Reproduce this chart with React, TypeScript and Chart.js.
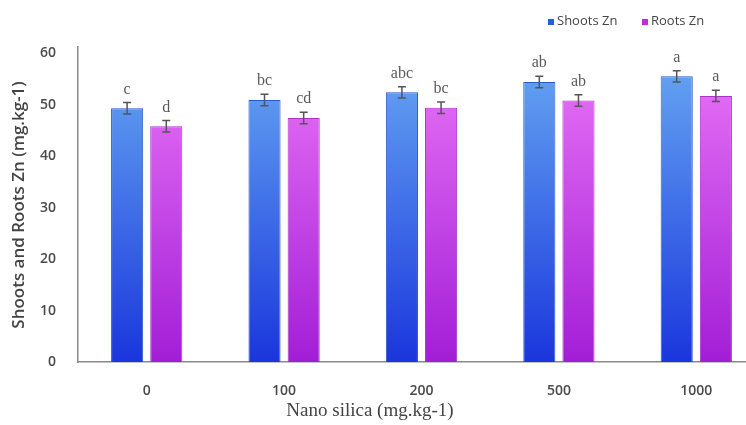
import React, { useEffect, useRef } from "react";
import { Chart, registerables } from "chart.js";

Chart.register(...registerables);

const categories = ["0", "100", "200", "500", "1000"];
const shootsZn = [49.3, 50.9, 52.4, 54.4, 55.5];
const rootsZn = [45.8, 47.4, 49.4, 50.8, 51.7];
const shootsErr = [1.1, 1.1, 1.1, 1.1, 1.1];
const rootsErr = [1.1, 1.1, 1.1, 1.1, 1.1];
const shootsLetters = ["c", "bc", "abc", "ab", "a"];
const rootsLetters = ["d", "cd", "bc", "ab", "a"];
const yTickValues = [0, 10, 20, 30, 40, 50, 60];
const seriesNames = ["Shoots Zn", "Roots Zn"];
const xTitle = "Nano silica (mg.kg-1)";
const yTitle = "Shoots and Roots Zn (mg.kg-1)";

const errors = [shootsErr, rootsErr];
const letters = [shootsLetters, rootsLetters];
const legendColors = ["#1f5fe0", "#c42ad8"];

const W = 780;
const H = 425;

const overlayPlugin = {
  id: "overlay",
  afterDatasetsDraw(chart: any) {
    const ctx = chart.ctx;
    const yScale = chart.scales.y;
    ctx.save();
    chart.data.datasets.forEach((ds: any, di: number) => {
      const meta = chart.getDatasetMeta(di);
      meta.data.forEach((el: any, i: number) => {
        const v = ds.data[i];
        const e = errors[di][i];
        const yt = yScale.getPixelForValue(v + e);
        const yb = yScale.getPixelForValue(v - e);
        const x = el.x;
        ctx.strokeStyle = "#555";
        ctx.lineWidth = 1.5;
        ctx.beginPath();
        ctx.moveTo(x, yt);
        ctx.lineTo(x, yb);
        ctx.moveTo(x - 4, yt);
        ctx.lineTo(x + 4, yt);
        ctx.moveTo(x - 4, yb);
        ctx.lineTo(x + 4, yb);
        ctx.stroke();
        ctx.fillStyle = "#5a5a5a";
        ctx.font = "16px 'Liberation Serif'";
        ctx.textAlign = "center";
        ctx.textBaseline = "alphabetic";
        ctx.fillText(letters[di][i], x, yt - 9);
      });
    });
    ctx.restore();
  },
  afterDraw(chart: any) {
    const ctx = chart.ctx;
    ctx.save();
    // legend
    ctx.font = "13px 'Open Sans'";
    ctx.textBaseline = "middle";
    ctx.textAlign = "left";
    const legendX = [548, 642];
    seriesNames.forEach((name, i) => {
      ctx.fillStyle = legendColors[i];
      ctx.fillRect(legendX[i], 19, 6, 6);
      ctx.fillStyle = "#444";
      ctx.fillText(name, legendX[i] + 9, 21);
    });
    // x title
    ctx.font = "19px 'Liberation Serif'";
    ctx.fillStyle = "#444";
    ctx.textAlign = "center";
    ctx.textBaseline = "middle";
    ctx.fillText(xTitle, 370, 411);
    // y title
    ctx.translate(19, 205);
    ctx.rotate(-Math.PI / 2);
    ctx.font = "600 17px 'Open Sans'";
    ctx.fillStyle = "#444";
    ctx.fillText(yTitle, 0, 0);
    ctx.restore();
  },
};

function makeGradient(chart: any, top: string, bottom: string) {
  const ctx = chart.ctx;
  const g = ctx.createLinearGradient(0, 362, 0, 70);
  g.addColorStop(0, bottom);
  g.addColorStop(1, top);
  return g;
}

export default function App() {
  const ref = useRef<HTMLCanvasElement>(null);
  useEffect(() => {
    if (!ref.current) return;
    const chart = new Chart(ref.current, {
      type: "bar",
      data: {
        labels: categories,
        datasets: [
          {
            label: seriesNames[0],
            data: shootsZn,
            backgroundColor: (c: any) => makeGradient(c.chart, "#63a2f2", "#1a36dc"),
            borderColor: "#2d58cc",
            borderWidth: 1,
            categoryPercentage: 0.57,
            barPercentage: 0.82,
          },
          {
            label: seriesNames[1],
            data: rootsZn,
            backgroundColor: (c: any) => makeGradient(c.chart, "#e670f6", "#a21ed6"),
            borderColor: "#a835c8",
            borderWidth: 1,
            categoryPercentage: 0.57,
            barPercentage: 0.82,
          },
        ],
      },
      options: {
        responsive: false,
        animation: false,
        devicePixelRatio: 1,
        layout: { padding: { top: 47, right: 15, bottom: 0, left: 0 } },
        plugins: {
          legend: { display: false },
          tooltip: { enabled: false },
        },
        scales: {
          x: {
            grid: { display: false, drawTicks: false },
            border: { display: true, color: "#8a8a8a", width: 1.5 },
            ticks: {
              color: "#4a4a4a",
              font: { family: "'Open Sans'", size: 14, weight: "600" },
              padding: 21,
            },
            afterFit: (s: any) => {
              s.height = 63;
            },
          },
          y: {
            min: 0,
            max: 61.2,
            grid: { display: false, drawTicks: false },
            border: { display: true, color: "#8a8a8a", width: 1.5 },
            afterBuildTicks: (s: any) => {
              s.ticks = yTickValues.map((v) => ({ value: v }));
            },
            ticks: {
              color: "#4a4a4a",
              font: { family: "'Open Sans'", size: 14, weight: "600" },
              padding: 22,
            },
            afterFit: (s: any) => {
              s.width = 78;
            },
          },
        },
      },
      plugins: [overlayPlugin],
    });
    return () => chart.destroy();
  }, []);
  return (
    <div
      style={{
        position: "fixed",
        left: 0,
        top: 0,
        width: 746,
        height: 425,
        overflow: "hidden",
        background: "#fff",
      }}
    >
      <canvas ref={ref} width={W} height={H} style={{ display: "block", width: W, height: H }} />
    </div>
  );
}
